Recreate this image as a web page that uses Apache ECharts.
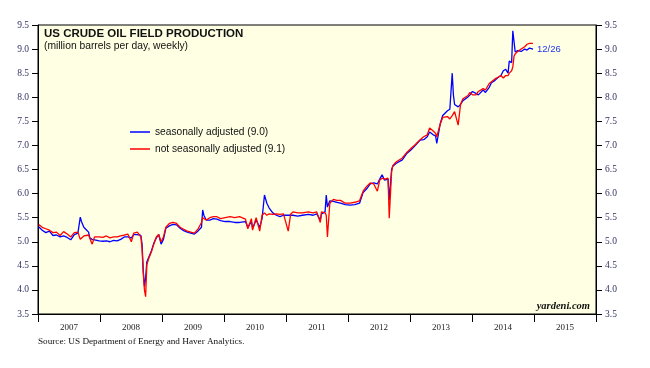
<!DOCTYPE html>
<html><head><meta charset="utf-8">
<script src="https://cdn.jsdelivr.net/npm/echarts@6/dist/echarts.min.js"></script>
<style>html,body{margin:0;padding:0;background:#fff}#c{width:650px;height:368px}</style>
</head><body><div id="c"></div>
<script>
const dates = [
'2007-01-05','2007-01-26','2007-02-16','2007-03-09','2007-03-30','2007-04-20','2007-05-11','2007-06-01','2007-06-22','2007-07-13','2007-08-03','2007-08-24','2007-08-31','2007-09-07','2007-09-14','2007-09-28','2007-10-12','2007-10-26','2007-11-02','2007-11-16','2007-11-30','2007-12-28',
'2008-01-18','2008-02-08','2008-02-29','2008-03-21','2008-04-11','2008-05-02','2008-05-23','2008-06-13','2008-07-04','2008-07-18','2008-08-08','2008-08-29','2008-09-05','2008-09-12','2008-09-19','2008-09-26','2008-10-03','2008-10-17','2008-10-31','2008-11-14','2008-11-28','2008-12-12','2008-12-26',
'2009-01-09','2009-01-23','2009-02-13','2009-03-06','2009-03-27','2009-04-17','2009-05-08','2009-05-29','2009-06-19','2009-07-10','2009-07-31','2009-08-21','2009-08-28','2009-09-04','2009-09-18','2009-10-09','2009-10-30','2009-11-20','2009-12-11',
'2010-01-08','2010-02-05','2010-03-05','2010-04-02','2010-05-07','2010-05-21','2010-06-11','2010-06-18','2010-07-09','2010-07-30','2010-08-13','2010-08-27','2010-09-10','2010-09-24','2010-10-15','2010-11-05','2010-11-26','2010-12-17',
'2011-01-14','2011-01-28','2011-02-11','2011-03-11','2011-04-08','2011-05-13','2011-06-10','2011-07-01','2011-07-22','2011-07-29','2011-08-19','2011-08-26','2011-09-02','2011-09-16','2011-10-07','2011-10-28','2011-11-18','2011-12-16',
'2012-01-13','2012-02-10','2012-03-09','2012-03-30','2012-04-20','2012-05-11','2012-06-01','2012-06-22','2012-07-06','2012-07-20','2012-08-03','2012-08-24','2012-08-31','2012-09-14','2012-09-21','2012-10-12','2012-11-16','2012-12-14',
'2013-01-04','2013-02-01','2013-03-01','2013-03-22','2013-04-12','2013-04-26','2013-05-17','2013-05-31','2013-06-07','2013-06-28','2013-07-12','2013-08-09','2013-08-23','2013-09-06','2013-09-13','2013-09-20','2013-10-11','2013-10-25','2013-11-08','2013-12-06','2013-12-20',
'2014-01-03','2014-01-24','2014-02-07','2014-03-07','2014-03-21','2014-04-11','2014-04-25','2014-05-16','2014-06-06','2014-06-20','2014-07-04','2014-07-18','2014-08-01','2014-08-08','2014-08-22','2014-08-29','2014-09-05','2014-09-12','2014-09-26','2014-10-17','2014-11-07','2014-11-21','2014-12-05','2014-12-26'
];
const saValues = [
5.31,5.24,5.19,5.22,5.13,5.14,5.10,5.12,5.09,5.04,5.15,5.18,5.20,5.51,5.42,5.30,5.25,5.20,5.08,5.05,5.04,5.02,
5.01,5.02,5.00,5.03,5.02,5.05,5.10,5.10,5.08,5.15,5.15,5.13,4.95,4.40,4.07,4.25,4.58,4.70,4.82,4.98,5.08,5.15,4.95,
5.05,5.28,5.33,5.36,5.35,5.28,5.23,5.20,5.18,5.16,5.22,5.30,5.66,5.55,5.45,5.45,5.48,5.47,5.44,
5.42,5.42,5.40,5.40,5.42,5.30,5.42,5.28,5.45,5.30,5.48,5.97,5.80,5.70,5.60,5.55,5.52,5.55,
5.55,5.55,5.55,5.53,5.55,5.57,5.55,5.58,5.45,5.58,5.62,5.97,5.72,5.85,5.84,5.82,5.80,5.77,
5.76,5.77,5.80,6.02,6.10,6.20,6.22,6.20,6.30,6.39,6.28,6.30,5.87,6.50,6.57,6.63,6.70,6.84,
6.90,7.00,7.11,7.12,7.18,7.28,7.22,7.20,7.04,7.46,7.62,7.72,7.75,8.50,8.05,7.85,7.80,7.85,7.93,8.00,8.05,
8.12,8.08,8.05,8.15,8.10,8.20,8.30,8.35,8.42,8.45,8.55,8.58,8.50,8.75,8.72,9.38,9.35,8.94,8.97,8.95,9.00,8.98,9.02,9.00
];
const nsaValues = [
5.36,5.30,5.27,5.24,5.19,5.20,5.13,5.21,5.16,5.10,5.19,5.20,5.17,5.05,5.04,5.12,5.13,5.14,5.10,4.95,5.10,5.10,
5.09,5.12,5.08,5.10,5.10,5.12,5.14,5.16,5.00,5.18,5.20,5.10,4.85,4.35,4.00,3.86,4.52,4.68,4.80,4.96,5.10,5.15,5.00,
5.10,5.30,5.38,5.40,5.38,5.30,5.26,5.22,5.20,5.18,5.26,5.40,5.50,5.48,5.45,5.50,5.52,5.52,5.48,
5.50,5.52,5.50,5.52,5.47,5.27,5.48,5.24,5.50,5.22,5.55,5.60,5.55,5.58,5.57,5.58,5.57,5.58,
5.22,5.57,5.62,5.60,5.60,5.62,5.60,5.62,5.40,5.62,5.60,5.55,5.10,5.80,5.88,5.86,5.86,5.80,
5.80,5.82,5.85,6.05,6.15,6.22,6.20,6.05,6.28,6.32,6.30,6.32,5.49,6.45,6.58,6.66,6.74,6.86,
6.93,7.02,7.12,7.18,7.22,7.36,7.30,7.25,7.18,7.45,7.58,7.60,7.55,7.62,7.58,7.70,7.42,7.85,7.97,8.03,8.10,
8.05,8.05,8.12,8.18,8.15,8.28,8.32,8.38,8.42,8.45,8.40,8.45,8.45,8.50,8.55,8.63,8.85,8.90,8.95,9.00,9.05,9.10,9.12,9.12
];
const yearLabels = ['2007','2008','2009','2010','2011','2012','2013','2014','2015'];
const seriesNames = ['seasonally adjusted (9.0)', 'not seasonally adjusted (9.1)'];
const lastDateLabel = '12/26';
const yMin = 3.5, yMax = 9.5, yStep = 0.5;

const chart = echarts.init(document.getElementById('c'), null, {renderer: 'canvas'});
const yAxisBase = (pos) => ({
  type: 'value', position: pos, min: yMin, max: yMax, interval: yStep,
  axisLine: {show: true, lineStyle: {color: '#000', width: 1}},
  axisTick: {show: true, length: 6, lineStyle: {color: '#000'}},
  axisLabel: {formatter: v => v.toFixed(1), fontFamily: 'Liberation Serif', fontSize: 9.5, color: '#333366', margin: 9},
  splitLine: {show: false}
});
chart.setOption({
  animation: false,
  backgroundColor: '#ffffff',
  title: [
    {text: 'US CRUDE OIL FIELD PRODUCTION', left: 44, top: 28, padding: 0,
     textStyle: {fontFamily: 'Liberation Sans', fontWeight: 'bold', fontSize: 11.5, color: '#111'}},
    {text: '(million barrels per day, weekly)', left: 44, top: 41, padding: 0,
     textStyle: {fontFamily: 'Liberation Sans', fontWeight: 'normal', fontSize: 10.3, color: '#111'}},
    {text: 'yardeni.com', right: 60, top: 301, padding: 0,
     textStyle: {fontFamily: 'Liberation Serif', fontStyle: 'italic', fontWeight: 'bold', fontSize: 10.5, color: '#111'}},
    {text: 'Source: US Department of Energy and Haver Analytics.', left: 38, top: 337, padding: 0,
     textStyle: {fontFamily: 'Liberation Serif', fontWeight: 'normal', fontSize: 9.2, color: '#111'}}
  ],
  legend: {
    orient: 'vertical', left: 130, top: 126, padding: 0, itemGap: 5,
    itemWidth: 20, itemHeight: 1.5, icon: 'rect',
    textStyle: {fontFamily: 'Liberation Sans', fontSize: 10.2, color: '#111', lineHeight: 12},
    data: seriesNames
  },
  grid: {left: 38, right: 54, top: 25, bottom: 54, show: true, backgroundColor: '#FFFFE3', borderColor: '#000', borderWidth: 1},
  xAxis: [
    {type: 'time', min: '2007-01-01', max: '2016-01-01', show: false},
    {type: 'category', data: yearLabels, boundaryGap: true, position: 'bottom',
     axisLine: {show: true, lineStyle: {color: '#000'}},
     axisTick: {show: true, length: 8, interval: 0, lineStyle: {color: '#000'}},
     axisLabel: {fontFamily: 'Liberation Serif', fontSize: 9, color: '#222', margin: 9, interval: 0}}
  ],
  yAxis: [yAxisBase('left'), yAxisBase('right')],
  series: [
    {name: seriesNames[0], type: 'line', xAxisIndex: 0, yAxisIndex: 0, symbol: 'none',
     data: dates.map((d, i) => [d, saValues[i]]),
     lineStyle: {color: '#0000ff', width: 1.3}, itemStyle: {color: '#0000ff'},
     endLabel: {show: true, formatter: lastDateLabel, color: '#2233ee', fontFamily: 'Liberation Sans', fontSize: 9.5, distance: 4}},
    {name: seriesNames[1], type: 'line', xAxisIndex: 0, yAxisIndex: 0, symbol: 'none',
     data: dates.map((d, i) => [d, nsaValues[i]]),
     lineStyle: {color: '#ff0000', width: 1.3}, itemStyle: {color: '#ff0000'}}
  ]
});
</script></body></html>
